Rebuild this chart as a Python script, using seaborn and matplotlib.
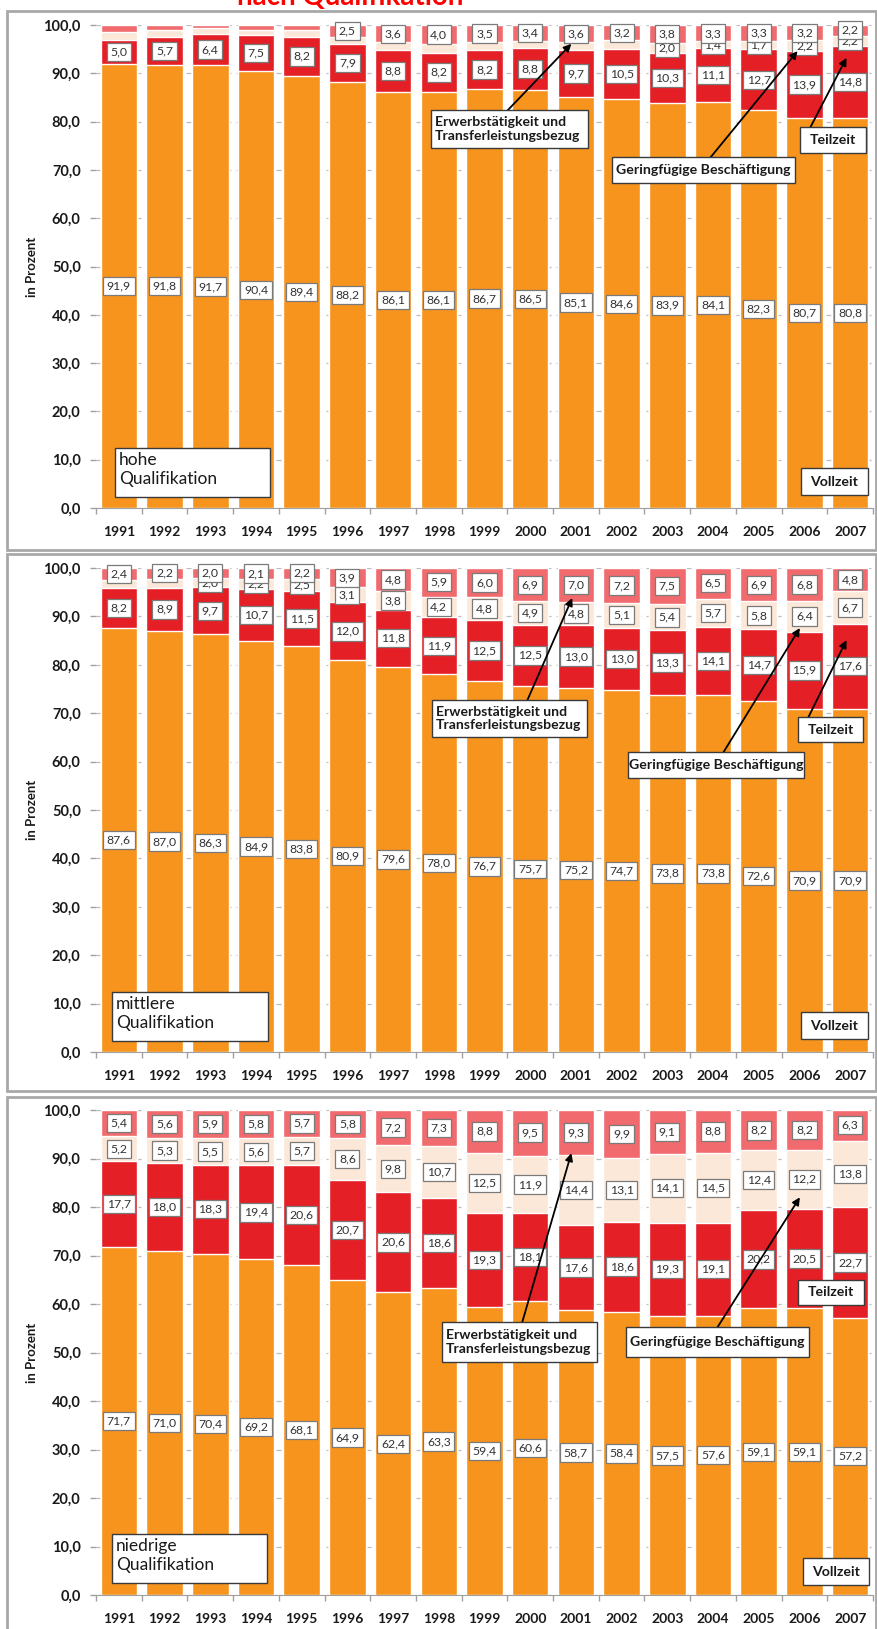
import matplotlib
matplotlib.use('Agg')
import matplotlib.pyplot as plt
from matplotlib.patches import Rectangle
import numpy as np
import seaborn as sns

sns.set_style('white')
plt.rcParams['font.family'] = ['Lato', 'DejaVu Sans']

W, H = 877, 1629

years = [str(y) for y in range(1991, 2008)]

# hohe Qualifikation
hoch_voll = [91.9, 91.8, 91.7, 90.4, 89.4, 88.2, 86.1, 86.1, 86.7, 86.5, 85.1, 84.6, 83.9, 84.1, 82.3, 80.7, 80.8]
hoch_teil = [5.0, 5.7, 6.4, 7.5, 8.2, 7.9, 8.8, 8.2, 8.2, 8.8, 9.7, 10.5, 10.3, 11.1, 12.7, 13.9, 14.8]
hoch_ger = [1.7, 1.5, 1.2, 1.1, 1.4, 1.4, 1.5, 1.7, 1.6, 1.3, 1.6, 1.7, 2.0, 1.4, 1.7, 2.2, 2.2]
hoch_erw = [1.4, 1.0, 0.7, 1.0, 1.0, 2.5, 3.6, 4.0, 3.5, 3.4, 3.6, 3.2, 3.8, 3.3, 3.3, 3.2, 2.2]

# mittlere Qualifikation
mittel_voll = [87.6, 87.0, 86.3, 84.9, 83.8, 80.9, 79.6, 78.0, 76.7, 75.7, 75.2, 74.7, 73.8, 73.8, 72.6, 70.9, 70.9]
mittel_teil = [8.2, 8.9, 9.7, 10.7, 11.5, 12.0, 11.8, 11.9, 12.5, 12.5, 13.0, 13.0, 13.3, 14.1, 14.7, 15.9, 17.6]
mittel_ger = [1.8, 1.9, 2.0, 2.2, 2.5, 3.1, 3.8, 4.2, 4.8, 4.9, 4.8, 5.1, 5.4, 5.7, 5.8, 6.4, 6.7]
mittel_erw = [2.4, 2.2, 2.0, 2.1, 2.2, 3.9, 4.8, 5.9, 6.0, 6.9, 7.0, 7.2, 7.5, 6.5, 6.9, 6.8, 4.8]

# niedrige Qualifikation
nied_voll = [71.7, 71.0, 70.4, 69.2, 68.1, 64.9, 62.4, 63.3, 59.4, 60.6, 58.7, 58.4, 57.5, 57.6, 59.1, 59.1, 57.2]
nied_teil = [17.7, 18.0, 18.3, 19.4, 20.6, 20.7, 20.6, 18.6, 19.3, 18.1, 17.6, 18.6, 19.3, 19.1, 20.2, 20.5, 22.7]
nied_ger = [5.2, 5.3, 5.5, 5.6, 5.7, 8.6, 9.8, 10.7, 12.5, 11.9, 14.4, 13.1, 14.1, 14.5, 12.4, 12.2, 13.8]
nied_erw = [5.4, 5.6, 5.9, 5.8, 5.7, 5.8, 7.2, 7.3, 8.8, 9.5, 9.3, 9.9, 9.1, 8.8, 8.2, 8.2, 6.3]

# ab welchem Jahr die kleinen Segmente beschriftet sind
hoch_ger_from, hoch_erw_from = 2003, 1996
mittel_ger_from, mittel_erw_from = 1993, 1991
nied_ger_from, nied_erw_from = 1991, 1991

c_voll = '#F7941D'
c_teil = '#E41F26'
c_ger = '#FCE8D8'
c_erw = '#F06A6E'


def fmt(v):
    return f'{v:.1f}'.replace('.', ',')


def fbox(fig, x0, y0, x1, y1, lw=1.0):
    r = Rectangle((x0 / W, 1 - y1 / H), (x1 - x0) / W, (y1 - y0) / H, transform=fig.transFigure,
                  facecolor='white', edgecolor='#3a3a3a', lw=lw, zorder=10)
    fig.add_artist(r)


def ftext(fig, x, y, s, **kw):
    fig.text(x / W, 1 - y / H, s, zorder=11, color='#1a1a1a', **kw)


def arrow(ax, head, tail):
    ax.annotate('', xy=head, xycoords='data', xytext=(tail[0] / W, 1 - tail[1] / H),
                textcoords='figure fraction', annotation_clip=False,
                arrowprops=dict(arrowstyle='-|>', color='black', lw=1.3, mutation_scale=11,
                                shrinkA=0, shrinkB=0), zorder=8)


def panel(fig, top, bottom, voll, teil, ger, erw, ger_from, erw_from):
    ax = fig.add_axes([96 / W, 1 - bottom / H, 777 / W, (bottom - top) / H])
    c1 = np.array(voll)
    c2 = c1 + np.array(teil)
    c3 = c2 + np.array(ger)
    c4 = c3 + np.array(erw)
    for cum, col in [(c4, c_erw), (c3, c_ger), (c2, c_teil), (c1, c_voll)]:
        sns.barplot(x=years, y=cum, color=col, saturation=1, width=0.8, ax=ax)
    ax.set_ylim(0, 100)
    ax.set_xlim(-0.5, 16.5)
    ax.set_axisbelow(True)
    ax.yaxis.grid(True, linestyle=(0, (4, 4)), color='#BDBDBD', lw=0.9)
    ax.set_yticks(range(0, 101, 10))
    ax.set_yticklabels([fmt(v) for v in range(0, 101, 10)], fontweight='bold', fontsize=10.5, color='#1a1a1a')
    ax.set_xticks(range(17))
    ax.set_xticklabels(years, fontweight='bold', fontsize=10, color='#1a1a1a')
    ax.set_xticks(np.arange(-0.5, 17, 1), minor=True)
    ax.tick_params(axis='x', which='major', length=0, pad=13)
    ax.tick_params(axis='x', which='minor', length=4, bottom=True, color='#A0A0A0', width=1)
    ax.tick_params(axis='y', length=4, left=True, color='#A0A0A0', width=1, pad=7)
    for s in ['top', 'right', 'left']:
        ax.spines[s].set_visible(False)
    ax.spines['bottom'].set_color('#A0A0A0')
    ax.set_ylabel('in Prozent', fontweight='bold', fontsize=9.5, color='#1a1a1a')
    ax.yaxis.set_label_coords(-58 / 777, 0.5)

    bb = dict(boxstyle='square,pad=0.3', fc='white', ec='#7a7a7a', lw=0.9)
    for i, y in enumerate(years):
        yr = int(y)
        segs = [(voll[i], 0, True), (teil[i], c1[i], True),
                (ger[i], c2[i], yr >= ger_from), (erw[i], c3[i], yr >= erw_from)]
        for v, base, show in segs:
            if show:
                ax.text(i, base + v / 2, fmt(v), ha='center', va='center', fontsize=8.8,
                        color='#333333', bbox=bb, zorder=5)
    return ax


fig = plt.figure(figsize=(W / 100, H / 100), dpi=100)

# Rahmen
for y0, y1 in [(11, 550), (554, 1091), (1097, 1640)]:
    fig.add_artist(Rectangle((7 / W, 1 - y1 / H), 869 / W, (y1 - y0) / H, transform=fig.transFigure,
                             facecolor='none', edgecolor='#A8A8A8', lw=2, zorder=0))

# Titel (im Original oben abgeschnitten)
fig.text(350 / W, 1 - 5 / H, 'nach Qualifikation', color='#FF0000', fontsize=20, fontweight='bold',
         ha='center', va='baseline')

ax1 = panel(fig, 25, 508, hoch_voll, hoch_teil, hoch_ger, hoch_erw, hoch_ger_from, hoch_erw_from)
ax2 = panel(fig, 568, 1052, mittel_voll, mittel_teil, mittel_ger, mittel_erw, mittel_ger_from, mittel_erw_from)
ax3 = panel(fig, 1110, 1595, nied_voll, nied_teil, nied_ger, nied_erw, nied_ger_from, nied_erw_from)

erw_txt = 'Erwerbstätigkeit und\nTransferleistungsbezug'
ger_txt = 'Geringfügige Beschäftigung'

arrow(ax1, (16 - 0.08, 93.2), (810, 128))
arrow(ax1, (15 - 0.15, 94.6), (710, 158))
arrow(ax1, (10 - 0.1, 96.1), (507, 111))
arrow(ax2, (16 - 0.08, 85.1), (808, 718))
arrow(ax2, (15 - 0.1, 87.6), (723, 753))
arrow(ax2, (10 - 0.08, 93.8), (527, 701))
arrow(ax3, (15 - 0.1, 82.0), (717, 1328))
arrow(ax3, (10 - 0.1, 91.1), (522, 1323))

panels = [
    ((115, 448, 270, 497), 'hohe\nQualifikation', (801, 468, 868, 495),
     (800, 127, 866, 153), (612, 157, 795, 183), (431, 110, 588, 148)),
    ((112, 992, 268, 1041), 'mittlere\nQualifikation', (801, 1012, 868, 1039),
     (798, 717, 863, 742), (628, 752, 804, 778), (432, 700, 587, 737)),
    ((112, 1534, 267, 1583), 'niedrige\nQualifikation', (803, 1558, 869, 1585),
     (798, 1280, 864, 1305), (626, 1327, 809, 1357), (442, 1322, 597, 1362)),
]

for qb, qt, vb, tb, gb, eb in panels:
    fbox(fig, *qb)
    ftext(fig, qb[0] + 4, qb[1] + 4, qt, fontsize=12.5, ha='left', va='top', linespacing=1.2)
    for b, t in [(vb, 'Vollzeit'), (tb, 'Teilzeit'), (gb, ger_txt)]:
        fbox(fig, *b)
        ftext(fig, (b[0] + b[2]) / 2, (b[1] + b[3]) / 2, t, fontsize=10.2, fontweight='bold',
              ha='center', va='center')
    fbox(fig, *eb)
    ftext(fig, eb[0] + 4, (eb[1] + eb[3]) / 2, erw_txt, fontsize=10.1, fontweight='bold',
          ha='left', va='center', linespacing=1.15)

fig.savefig('out.png', dpi=100, facecolor='white')
